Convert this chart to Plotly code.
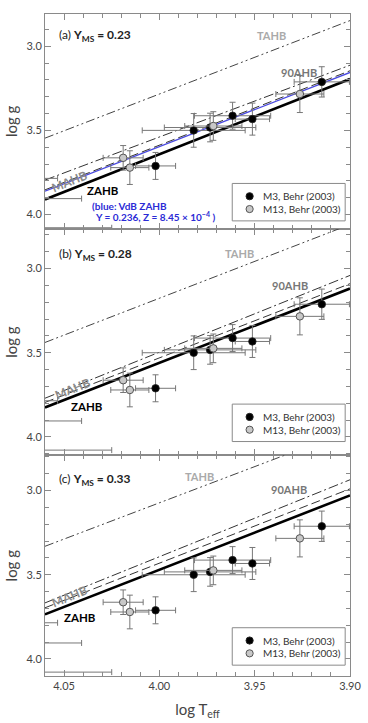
import plotly.graph_objects as go

# ---------------- data ----------------
# M3 (Behr 2003): log Teff, log g, errors (last three lie beyond the hot edge of the plot)
m3_logt = [4.002, 3.982, 3.9734, 3.9616, 3.9512, 3.9148, 4.070, 4.090, 4.100]
m3_logg = [3.711, 3.500, 3.483, 3.413, 3.433, 3.212, 3.785, 3.905, 4.078]
m3_xerr = [0.0105, 0.027, 0.024, 0.020, 0.009, 0.0145, 0.0166, 0.0492, 0.075]
m3_yerr = [0.08, 0.10, 0.085, 0.08, 0.095, 0.09, 0.0, 0.0, 0.0]

# M13 (Behr 2003)
m13_logt = [4.019, 4.0155, 3.9717, 3.9263]
m13_logg = [3.663, 3.721, 3.474, 3.284]
m13_xerr = [0.0105, 0.010, 0.015, 0.0126]
m13_yerr = [0.073, 0.10, 0.085, 0.11]

# model sequences: log g at the two ends of the plotted log Teff range
teff_ends = [4.06, 3.90]
zahb = {"a": [3.910, 3.195], "b": [3.825, 3.119], "c": [3.735, 3.029]}
mahb = {"a": [3.853, 3.146], "b": [3.795, 3.090], "c": [3.696, 2.990]}
ahb90 = {"a": [3.795, 3.113], "b": [3.770, 3.041], "c": [3.667, 2.936]}
tahb = {"a": [3.546, 2.848], "b": [3.439, 2.739], "c": [3.331, 2.643]}
vdb_zahb_a = [3.861, 3.156]

panel_labels = {"a": "(a) <b>Y<sub>MS</sub> = 0.23</b>",
                "b": "(b) <b>Y<sub>MS</sub> = 0.28</b>",
                "c": "(c) <b>Y<sub>MS</sub> = 0.33</b>"}
y_ranges = {"a": [4.084, 2.809], "b": [4.109, 2.764], "c": [4.101, 2.791]}
legend_names = ["M3, Behr (2003)", "M13, Behr (2003)"]

# ---------------- layout helpers ----------------
W, H = 368, 723
L, R, T, B = 45, 7, 14, 37
PW, PH = W - L - R, H - T - B


def px2paper(x, y):
    return (x - L) / PW, (H - B - y) / PH


panel_pix = {"a": (14, 232), "b": (232, 462), "c": (462, 686)}
FONT = "Lato, 'Open Sans', sans-serif"
AXC = "#8a8a8a"
M3_STYLE = dict(color="black", line="#222")
M13_STYLE = dict(color="#c8c8c8", line="#555")

fig = go.Figure()
panels = ["a", "b", "c"]

for i, p in enumerate(panels):
    xa = "x" if i == 0 else f"x{i+1}"
    ya = "y" if i == 0 else f"y{i+1}"
    lw = 1.0
    fig.add_trace(go.Scatter(x=teff_ends, y=tahb[p], mode="lines", xaxis=xa, yaxis=ya,
                             line=dict(color="#444", width=lw, dash="9px,3px,2px,3px,2px,3px"),
                             showlegend=False, hoverinfo="skip"))
    fig.add_trace(go.Scatter(x=teff_ends, y=ahb90[p], mode="lines", xaxis=xa, yaxis=ya,
                             line=dict(color="#333", width=lw, dash="10px,3px,2px,3px"),
                             showlegend=False, hoverinfo="skip"))
    if p == "a":
        fig.add_trace(go.Scatter(x=teff_ends, y=vdb_zahb_a, mode="lines", xaxis=xa, yaxis=ya,
                                 line=dict(color="#4a4ae0", width=1.3),
                                 showlegend=False, hoverinfo="skip"))
    fig.add_trace(go.Scatter(x=teff_ends, y=mahb[p], mode="lines", xaxis=xa, yaxis=ya,
                             line=dict(color="#333", width=lw, dash="9px,4px"),
                             showlegend=False, hoverinfo="skip"))
    fig.add_trace(go.Scatter(x=teff_ends, y=zahb[p], mode="lines", xaxis=xa, yaxis=ya,
                             line=dict(color="black", width=2.6),
                             showlegend=False, hoverinfo="skip"))
    fig.add_trace(go.Scatter(x=m3_logt, y=m3_logg, mode="markers", xaxis=xa, yaxis=ya,
                             name=legend_names[0], showlegend=False,
                             marker=dict(color=M3_STYLE["color"], size=7.5,
                                         line=dict(color=M3_STYLE["line"], width=0.8)),
                             error_x=dict(type="data", array=m3_xerr, color="#777", thickness=1, width=3),
                             error_y=dict(type="data", array=m3_yerr, color="#777", thickness=1, width=3)))
    fig.add_trace(go.Scatter(x=m13_logt, y=m13_logg, mode="markers", xaxis=xa, yaxis=ya,
                             name=legend_names[1], showlegend=False,
                             marker=dict(color=M13_STYLE["color"], size=7.5,
                                         line=dict(color=M13_STYLE["line"], width=1)),
                             error_x=dict(type="data", array=m13_xerr, color="#777", thickness=1, width=3),
                             error_y=dict(type="data", array=m13_yerr, color="#777", thickness=1, width=3)))

layout = dict(width=W, height=H, margin=dict(l=L, r=R, t=T, b=B),
              paper_bgcolor="white", plot_bgcolor="white", showlegend=False,
              font=dict(family=FONT, color="#444", size=11))
for i, p in enumerate(panels):
    top, bot = panel_pix[p]
    d0 = (H - B - bot) / PH
    d1 = (H - B - top) / PH
    xk = "xaxis" if i == 0 else f"xaxis{i+1}"
    yk = "yaxis" if i == 0 else f"yaxis{i+1}"
    xa_anchor = "y" if i == 0 else f"y{i+1}"
    ya_anchor = "x" if i == 0 else f"x{i+1}"
    layout[xk] = dict(range=[4.06, 3.90], anchor=xa_anchor, domain=[0, 1],
                      showgrid=False, zeroline=False, showline=True, linecolor=AXC, linewidth=1,
                      mirror="ticks", ticks="inside", ticklen=6, tickcolor=AXC,
                      tick0=3.90, dtick=0.05, tickformat=".2f", ticklabeloverflow="allow",
                      minor=dict(dtick=0.01, ticks="inside", ticklen=4, tickcolor=AXC, showgrid=False),
                      showticklabels=(p == "c"),
                      tickfont=dict(size=11, color="#444"))
    if p != "a":
        layout[xk]["matches"] = "x"
    if p == "c":
        layout[xk]["title"] = dict(text="log T<sub>eff</sub>", font=dict(size=15, color="#444"), standoff=13)
    layout[yk] = dict(range=y_ranges[p], anchor=ya_anchor, domain=[d0, d1],
                      showgrid=False, zeroline=False, showline=True, linecolor=AXC, linewidth=1,
                      mirror="ticks", ticks="inside", ticklen=6, tickcolor=AXC,
                      tick0=3.0, dtick=0.5, tickformat=".1f",
                      minor=dict(dtick=0.1, ticks="inside", ticklen=4, tickcolor=AXC, showgrid=False),
                      tickfont=dict(size=11, color="#444"),
                      title=dict(text="log g", font=dict(size=15, color="#444"), standoff=5))

fig.update_layout(**layout)

ann = []
shapes = []


def add_text(text, x, y, size, color, xanchor="center", bold=False, angle=0):
    px, py = px2paper(x, y)
    ann.append(dict(text=(f"<b>{text}</b>" if bold else text), x=px, y=py,
                    xref="paper", yref="paper", showarrow=False, xanchor=xanchor, yanchor="middle",
                    textangle=angle, font=dict(size=size, color=color, family=FONT)))


label_pos = {"a": 36, "b": 258, "c": 487}
tahb_pos = {"a": (280, 36), "b": (247, 257), "c": (205, 483)}
ahb_pos = {"a": (308, 73), "b": (299, 290), "c": (298, 497)}
mahb_pos = {"a": (70, 184), "b": (74, 394), "c": (70, 605)}
zahb_pos = {"a": (105, 193), "b": (89, 412), "c": (81, 627)}
legend_top = {"a": 186, "b": 410, "c": 637}
for p in panels:
    add_text(panel_labels[p], 57, label_pos[p], 12, "#222", xanchor="left")
    add_text("TAHB", *tahb_pos[p], 11, "#aaaaaa", bold=True)
    add_text("90AHB", *ahb_pos[p], 11, "#777777", bold=True)
    add_text("MAHB", *mahb_pos[p], 12, "#8a8a8a", bold=True, angle=-22)
    add_text("ZAHB", *zahb_pos[p], 11.5, "black", bold=True)
    top = legend_top[p]
    x0, y0 = px2paper(239, top)
    x1, y1 = px2paper(356, top + 38)
    shapes.append(dict(type="rect", xref="paper", yref="paper", x0=x0, x1=x1, y0=y1, y1=y0,
                       line=dict(color="#8a8a8a", width=1), fillcolor="white", layer="above"))
    for k, (name, st) in enumerate([(legend_names[0], M3_STYLE), (legend_names[1], M13_STYLE)]):
        ry = top + 13 + k * 13
        mx, my = px2paper(257, ry)
        shapes.append(dict(type="circle", xref="paper", yref="paper", xsizemode="pixel",
                           ysizemode="pixel", xanchor=mx, yanchor=my, x0=-3.6, x1=3.6, y0=-3.6, y1=3.6,
                           fillcolor=st["color"], line=dict(color=st["line"], width=1), layer="above"))
        add_text(name, 269, ry, 10, "#333", xanchor="left")

add_text("(blue: VdB ZAHB", 92, 209, 10, "#2b2bd6", xanchor="left", bold=True)
add_text("Y = 0.236, Z = 8.45 × 10<sup>−4</sup> )", 95, 220, 10, "#2b2bd6", xanchor="left", bold=True)

fig.update_layout(annotations=ann, shapes=shapes)
fig.write_html("out.html")
